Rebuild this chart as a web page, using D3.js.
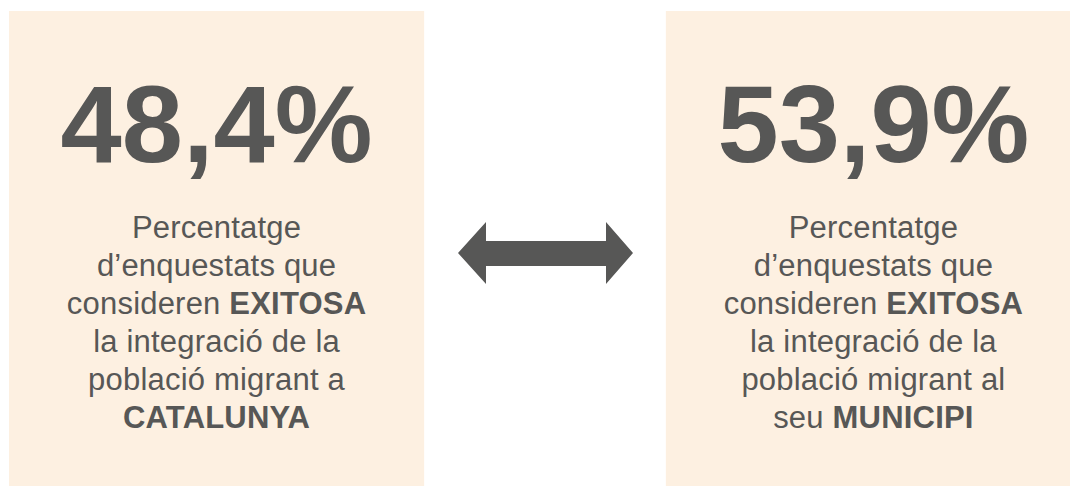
<!DOCTYPE html>
<html lang="ca">
  <head>
    <title>Integració població migrant</title>
    <meta charset="utf-8" />
    <script src="https://d3js.org/d3.v7.min.js"></script>
    <style>
      body { margin: 0; background: #ffffff; }
    </style>
  </head>
  <body>
    <svg width="1070" height="486" xmlns="http://www.w3.org/2000/svg" id="target"></svg>
    <script>
        // data
        const values = [48.4, 53.9];
        const scopes = ["CATALUNYA", "MUNICIPI"];
        // each line: list of [text, bold]
        const descLines = [
          [
            [["Percentatge", false]],
            [["d\u2019enquestats que", false]],
            [["consideren ", false], ["EXITOSA", true]],
            [["la integració de la", false]],
            [["població migrant a", false]],
            [["CATALUNYA", true]]
          ],
          [
            [["Percentatge", false]],
            [["d\u2019enquestats que", false]],
            [["consideren ", false], ["EXITOSA", true]],
            [["la integració de la", false]],
            [["població migrant al", false]],
            [["seu ", false], ["MUNICIPI", true]]
          ]
        ];

        const layout = {
          boxTop: 11,
          boxBottom: 486,
          numBaseline: 162,
          firstLine: 238,
          lineHeight: 38
        };
        const style = {
          fill: "#fdf0e1",
          ink: "#575756",
          font: "'Liberation Sans', Arial, Helvetica, sans-serif",
          numSize: 110,
          textSize: 31
        };

        const svg = d3.select("#target");
        const fmt = d3.formatLocale({decimal: ",", thousands: ".", grouping: [3], currency: ["", "€"]})
          .format(".1f");

        const x = d3.scaleBand()
          .domain(d3.range(values.length))
          .range([9, 1081])
          .paddingInner(0.368);

        const panels = svg.selectAll("g.panel")
          .data(values)
          .enter()
          .append("g")
          .attr("class", "panel")
          .attr("transform", (d, i) => "translate(" + x(i) + ",0)")
        ;

        panels.append("rect")
          .attr("x", 0)
          .attr("y", layout.boxTop)
          .attr("width", x.bandwidth())
          .attr("height", layout.boxBottom - layout.boxTop)
          .attr("fill", style.fill)
        ;

        panels.append("text")
          .attr("x", x.bandwidth()/2)
          .attr("y", layout.numBaseline)
          .attr("text-anchor", "middle")
          .attr("font-family", style.font)
          .attr("font-weight", "bold")
          .attr("font-size", style.numSize)
          .attr("fill", style.ink)
          .text(d => fmt(d) + "%")
        ;

        panels.each(function(d, i){
          const g = d3.select(this);
          const txt = g.append("text")
            .attr("text-anchor", "middle")
            .attr("font-family", style.font)
            .attr("font-size", style.textSize)
            .attr("letter-spacing", 0.2)
            .attr("fill", style.ink)
          ;
          descLines[i].forEach((line, j) => {
            line.forEach((seg, k) => {
              const t = txt.append("tspan")
                .attr("font-weight", seg[1] ? "bold" : "normal")
                .text(seg[0])
              ;
              if (k == 0){
                t.attr("x", x.bandwidth()/2)
                 .attr("y", layout.firstLine + j*layout.lineHeight);
              }
            });
          });
        });

        // double arrow between the two boxes
        const ax = (x(0) + x.bandwidth() + x(1)) / 2;
        const ay = 253;
        const arrow = [
          [-87, 0], [-59, -31], [-59, -12], [61, -12], [61, -31], [88, 0],
          [61, 31], [61, 13], [-59, 13], [-59, 31]
        ];
        svg.append("path")
          .attr("d", d3.line()(arrow.map(p => [ax + p[0], ay + p[1]])) + "Z")
          .attr("fill", style.ink)
        ;
    </script>
  </body>
</html>
